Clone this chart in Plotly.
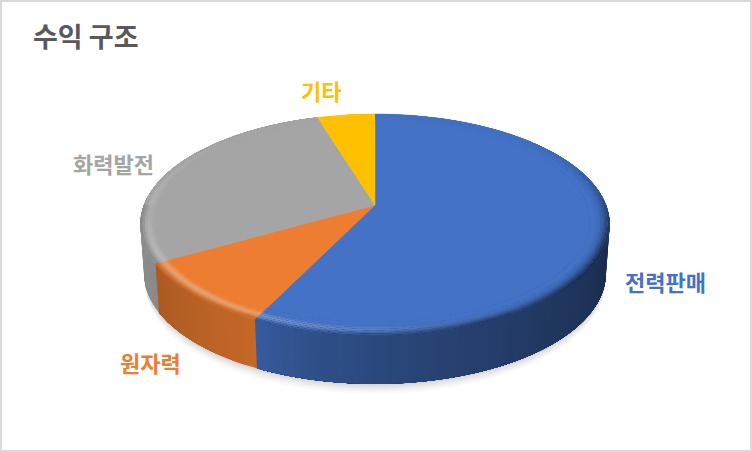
import numpy as np
import plotly.graph_objects as go

names = ['전력판매', '원자력', '화력발전', '기타']
values = [57.2, 9.5, 28.6, 4.7]
colors = ['#4472C4', '#ED7D31', '#A5A5A5', '#FFC000']
label_x = [665, 150, 113, 321]
label_y = [281, 362, 163, 90]

# side wall brightness, left and right end of each slice
side_left = [0.84, 0.83, 0.84, 0.8]
side_right = [0.35, 0.72, 0.86, 0.8]

# disc in perspective, tilted away from the viewer
cx, cy = 375, 205
A, B, k = 107, 231, -0.176
drop = 49


def project(deg, r=1.0, down=0.0):
    t = np.radians(deg)
    u = r * np.sin(t)
    v = -r * np.cos(t)
    d = 1 + k * v
    s = 1 - 0.016 * down / drop
    return cx + s * B * u / d, cy + A * v / d + down


def rgb(c):
    return np.array([int(c[i:i + 2], 16) for i in (1, 3, 5)], dtype=float)


def css(c):
    return 'rgb(%d,%d,%d)' % tuple(np.clip(c, 0, 255))


def bevel(base, deg, ring):
    light = np.exp(-((deg - 225) / 50) ** 2)
    dark = np.exp(-((deg - 120) / 42) ** 2) + 0.25 * (150 < deg < 270)
    col = rgb(base)
    col = col + (255 - col) * light * [0, 0.15, 0.3, 0.34, 0.22, 0.08, 0][ring]
    return col * (1 - min(dark, 1) * [0.6, 0.48, 0.32, 0.18, 0.08, 0.03, 0][ring])


fig = go.Figure()

# soft shadow under the pie
all_deg = np.linspace(0, 360, 181)
for off, op in zip([14, 12, 10, 8, 6], [0.03, 0.04, 0.05, 0.06, 0.07]):
    sx, sy = project(all_deg, 1.0, drop + off - 4)
    fig.add_trace(go.Scatter(x=sx, y=sy, mode='lines', fill='toself', line_width=0,
                             fillcolor='rgba(90,90,90,%s)' % op, hoverinfo='skip'))

edges = np.concatenate([[0], np.cumsum(values)]) / sum(values) * 360

# side wall, each strip runs to the slice end and the next one paints over it
for i, base in enumerate(colors):
    a0, a1 = max(edges[i], 86), min(edges[i + 1], 274)
    if a1 <= a0:
        continue
    for a in np.arange(a0, a1, 1.5):
        arc = np.linspace(a, a1, 40)
        tx, ty = project(arc)
        bx, by = project(arc[::-1], 1.0, drop)
        t = (a - a0) / (a1 - a0)
        # blue runs right to left as the angle grows, so measure from its left end
        f = side_left[i] + (side_right[i] - side_left[i]) * (1 - t) ** 0.6
        if i > 0:
            f = side_left[i] + (side_right[i] - side_left[i]) * t
        fig.add_trace(go.Scatter(x=np.r_[tx, bx], y=np.r_[ty, by], mode='lines',
                                 fill='toself', fillcolor=css(rgb(base) * f), line_width=0,
                                 hoverinfo='skip'))

# top face
for i, base in enumerate(colors):
    arc = np.linspace(edges[i], edges[i + 1], 90)
    ax, ay = project(arc)
    fig.add_trace(go.Scatter(x=np.r_[cx, ax, cx], y=np.r_[cy, ay, cy], mode='lines',
                             fill='toself', fillcolor=base, line=dict(color=base, width=0.5),
                             hoverinfo='skip'))

# bevel along the rim, painted outside in
rings = [1.0, 0.99, 0.98, 0.97, 0.96, 0.95, 0.94, 0.925, 0.92]
for i, base in enumerate(colors):
    for j in range(7):
        for a in np.arange(edges[i], edges[i + 1], 3.0):
            arc = np.linspace(a, edges[i + 1], 30)
            ox, oy = project(arc, rings[j])
            ix, iy = project(arc[::-1], rings[j + 2])
            fig.add_trace(go.Scatter(x=np.r_[ox, ix], y=np.r_[oy, iy], mode='lines', line_width=0,
                                     fill='toself', fillcolor=css(bevel(base, a + 1.5, j)),
                                     hoverinfo='skip'))

for name, c, lx, ly in zip(names, colors, label_x, label_y):
    fig.add_annotation(x=lx, y=ly, text='<b>%s</b>' % name, showarrow=False,
                       font=dict(family='Noto Sans CJK KR', size=22, color=c))

fig.update_layout(
    width=752, height=452, autosize=False,
    margin=dict(l=0, r=0, t=0, b=0),
    paper_bgcolor='white', plot_bgcolor='white', showlegend=False,
    title=dict(text='<b>수익 구조</b>', x=33 / 752, xanchor='left', y=1 - 38 / 452, yanchor='middle',
               font=dict(family='Noto Sans CJK KR', size=27, color='#595959')),
    xaxis=dict(range=[0, 752], visible=False, fixedrange=True),
    yaxis=dict(range=[452, 0], visible=False, fixedrange=True),
    shapes=[dict(type='rect', xref='paper', yref='paper', x0=0, x1=1, y0=0, y1=1,
                 line=dict(color='#D9D9D9', width=4))],
)

fig.write_html("out.html", config={'displayModeBar': False},
               post_script="document.body.style.margin='0';document.body.style.overflow='hidden';")
